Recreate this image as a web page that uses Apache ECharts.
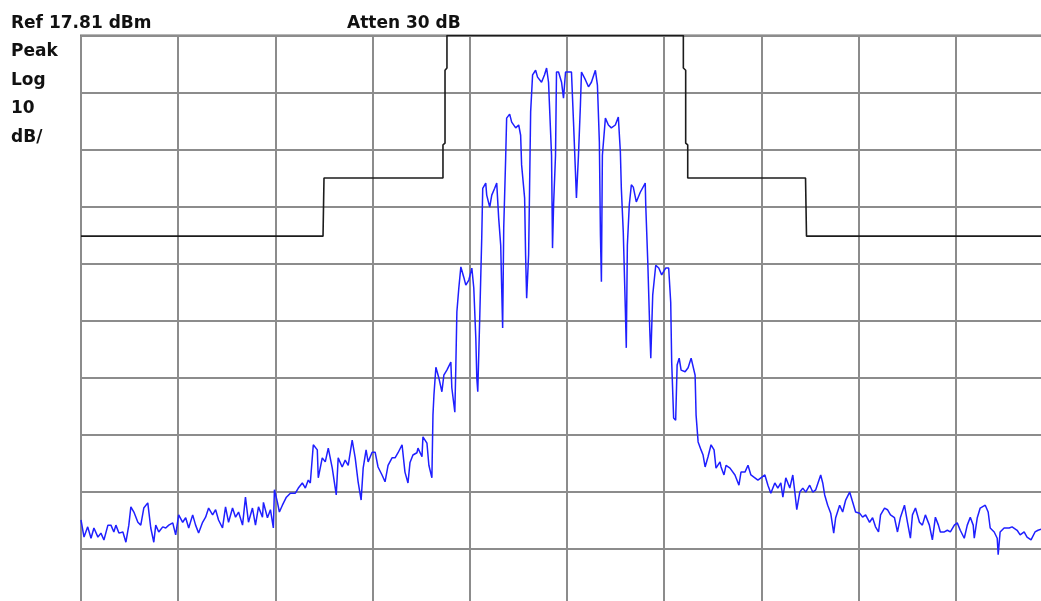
<!DOCTYPE html>
<html>
<head>
<meta charset="utf-8">
<script src="https://cdn.jsdelivr.net/npm/echarts@6/dist/echarts.min.js"></script>
<style>
html,body{margin:0;padding:0;background:#fff;}
#c{width:1041px;height:601px;}
</style>
</head>
<body>
<div id="c"></div>
<script>
// Header / annotation texts
const REF_LEVEL_DBM = 17.81;
const DB_PER_DIV = 10;
const ATTEN_DB = 30;
const headerText = 'Ref ' + REF_LEVEL_DBM + ' dBm';
const attenText = 'Atten ' + ATTEN_DB + ' dB';
const sideLabels = ['Peak', 'Log', String(DB_PER_DIV), 'dB/'];

// Frequency in horizontal divisions (0..10), level in dB relative to reference level
const traceFreq = [
0.000,0.031,0.069,0.103,0.133,0.174,0.205,0.236,0.277,0.308,0.338,0.359,0.390,0.431,0.462,0.492,0.513,0.544,0.585,0.615,
0.646,0.687,0.718,0.749,0.769,0.800,0.841,0.872,0.903,0.944,0.974,1.005,1.046,1.077,1.108,1.149,1.179,1.210,1.251,1.282,
1.313,1.354,1.385,1.415,1.456,1.487,1.518,1.559,1.590,1.621,1.662,1.692,1.723,1.764,1.795,1.826,1.867,1.877,1.918,1.949,
1.979,1.990,2.021,2.041,2.072,2.113,2.154,2.205,2.236,2.277,2.308,2.338,2.359,2.390,2.431,2.441,2.482,2.513,2.544,2.585,
2.626,2.646,2.687,2.718,2.749,2.790,2.821,2.851,2.882,2.903,2.933,2.954,2.995,3.026,3.056,3.097,3.128,3.159,3.200,3.231,
3.262,3.303,3.333,3.364,3.385,3.415,3.456,3.467,3.508,3.518,3.559,3.579,3.610,
3.621,3.631,3.651,3.682,3.713,3.733,3.764,3.805,3.815,3.846,3.856,3.867,3.887,3.908,3.938,3.959,3.990,4.021,4.041,4.062,
4.072,4.082,4.103,4.123,4.133,4.164,4.174,4.205,4.226,4.256,4.277,4.297,4.318,4.328,4.338,4.349,4.369,4.379,4.410,4.431,
4.472,4.503,4.523,4.533,4.564,4.574,4.585,4.605,4.615,4.626,4.646,4.677,4.697,4.738,4.769,4.790,4.810,4.841,4.851,4.862,
4.882,4.892,4.913,4.944,4.964,4.985,5.015,5.046,5.067,5.087,5.097,5.118,5.138,5.149,5.190,5.221,5.251,5.292,5.313,5.333,
5.344,5.354,5.364,5.395,5.426,5.456,5.497,5.528,5.549,5.559,5.579,5.600,5.610,5.621,5.641,5.662,5.682,5.713,5.754,5.805,
5.810,5.831,5.851,5.862,5.882,5.913,5.944,5.974,6.015,6.046,6.067,6.077,6.097,6.118,6.133,6.154,6.174,6.215,6.246,6.277,
6.318,6.328,6.349,6.379,
6.400,6.421,6.451,6.482,6.513,6.533,6.574,6.585,6.615,6.636,6.677,6.697,6.728,6.769,6.790,6.831,6.862,6.892,6.933,6.964,
6.995,7.036,7.067,7.097,7.138,7.169,7.200,7.221,7.251,7.292,7.323,7.344,7.364,7.395,7.426,7.456,7.497,7.528,7.559,7.610,
7.631,7.651,7.682,7.713,7.744,7.764,7.805,7.836,7.867,7.908,7.938,7.969,8.010,8.041,8.072,8.113,8.144,8.174,8.205,8.226,
8.267,8.297,8.328,8.369,8.400,8.431,8.472,8.503,8.533,8.554,8.585,8.626,8.656,8.687,8.728,8.759,8.790,8.821,8.841,8.882,
8.913,8.944,8.985,9.015,9.046,9.087,9.118,9.149,9.179,9.190,9.221,9.251,9.303,9.333,9.354,9.395,9.426,9.436,9.456,9.497,
9.549,9.579,9.631,9.662,9.703,9.733,9.774,9.815,9.846,9.900,10.000
];
const traceLevel = [
-85.0,-88.0,-86.2,-88.2,-86.4,-88.0,-87.3,-88.5,-85.9,-85.9,-87.1,-85.9,-87.3,-87.1,-88.9,-85.9,-82.7,-83.6,-85.4,-85.9,
-82.9,-82.0,-86.4,-88.9,-85.9,-87.1,-86.2,-86.4,-85.9,-85.5,-87.6,-84.1,-85.4,-84.6,-86.4,-84.1,-85.9,-87.3,-85.4,-84.5,
-82.9,-84.1,-83.2,-85.0,-86.4,-82.7,-85.4,-82.9,-84.5,-83.6,-85.9,-81.0,-85.4,-82.9,-85.9,-82.7,-84.5,-81.9,-84.6,-83.2,
-86.4,-79.7,-81.9,-83.6,-82.4,-81.0,-80.3,-80.3,-79.4,-78.5,-79.4,-78.0,-78.5,-71.8,-72.7,-77.6,-74.1,-74.8,-72.4,-75.9,
-80.6,-74.1,-75.7,-74.5,-75.4,-71.0,-74.1,-78.3,-81.5,-75.9,-72.7,-74.8,-73.1,-73.1,-75.7,-77.1,-78.3,-75.4,-74.1,-74.1,
-73.2,-71.8,-76.6,-78.5,-74.9,-73.6,-73.2,-72.4,-73.9,-70.4,-71.5,-75.4,-77.6,
-66.6,-63.1,-58.2,-60.1,-62.5,-59.6,-58.7,-57.3,-61.8,-66.1,-58.3,-48.5,-44.3,-40.6,-42.4,-43.8,-42.9,-40.8,-44.3,-53.1,
-60.1,-62.5,-49.0,-35.4,-26.8,-25.9,-28.0,-30.1,-28.0,-26.8,-25.9,-32.0,-36.8,-44.3,-51.3,-33.8,-21.5,-14.5,-13.8,-15.2,
-16.2,-15.7,-17.5,-22.7,-28.5,-38.5,-46.1,-38.5,-26.8,-13.4,-6.9,-6.1,-7.3,-8.2,-6.9,-5.7,-8.2,-21.0,-37.3,-29.7,
-21.0,-6.4,-6.4,-8.2,-11.0,-6.4,-6.4,-6.4,-15.2,-24.0,-28.5,-21.0,-12.2,-6.4,-7.8,-9.0,-8.2,-6.1,-8.7,-18.7,
-35.0,-43.2,-21.0,-14.5,-15.7,-16.2,-15.7,-14.3,-20.4,-26.8,-34.5,-47.8,-54.8,-36.8,-29.7,-26.2,-26.6,-29.2,-27.5,-25.9,
-29.7,-39.7,-51.3,-56.6,-45.5,-40.3,-40.8,-42.0,-40.8,-40.8,-46.8,-57.3,-67.1,-67.5,-57.8,-56.6,-58.7,-59.0,-58.3,-56.6,
-59.6,-66.6,-71.3,-72.7,
-73.6,-75.7,-73.9,-71.8,-72.7,-75.9,-74.8,-75.7,-77.1,-75.4,-75.9,-75.9,-77.1,-78.9,-76.6,-76.6,-75.4,-77.1,-77.6,-78.0,
-77.6,-77.1,-78.9,-80.3,-78.5,-79.4,-78.5,-81.0,-77.6,-79.4,-77.1,-80.1,-83.2,-80.1,-79.4,-80.1,-78.9,-80.1,-79.7,-77.1,
-78.5,-80.6,-82.4,-83.8,-87.3,-84.6,-82.4,-83.6,-81.5,-80.1,-81.8,-83.6,-83.8,-84.5,-84.1,-85.4,-84.6,-86.2,-87.1,-84.1,
-82.9,-83.2,-84.1,-84.6,-87.1,-84.5,-82.4,-85.4,-88.2,-84.1,-82.9,-85.4,-85.9,-84.1,-85.9,-88.5,-84.5,-85.9,-87.1,-87.1,
-86.8,-87.1,-85.9,-85.5,-86.8,-88.2,-85.9,-84.5,-85.9,-88.2,-84.6,-82.9,-82.4,-83.6,-86.4,-87.1,-88.2,-91.1,-87.1,-86.4,
-86.4,-86.2,-86.8,-87.6,-87.1,-88.0,-88.5,-87.1,-86.8,-86.5,-87.0
];

// Limit mask (black stepped line)
const maskFreq  = [0.000, 2.490, 2.500, 3.724, 3.724, 3.745, 3.745, 3.765, 3.765, 6.197, 6.197, 6.221, 6.221, 6.242, 6.242, 7.454, 7.464, 10.000];
const maskLevel = [-35.2, -35.2, -25.0, -25.0, -19.2, -18.9, -6.1, -5.7, 0.0, 0.0, -5.7, -6.1, -18.9, -19.2, -25.0, -25.0, -35.2, -35.2];

// Screen: 10 x 10 divisions (the picture shows it cropped at right and bottom)
const X_MIN = 0, X_MAX = 10, X_DIV = 1;
const Y_MIN = -100, Y_MAX = 0, Y_DIV = 10;

const traceData = traceFreq.map((f, i) => [f, traceLevel[i]]);
const maskData = maskFreq.map((f, i) => [f, maskLevel[i]]);

const chart = echarts.init(document.getElementById('c'), null, {renderer: 'canvas'});

const FONT = '"DejaVu Sans", Verdana, sans-serif';

const graphics = [
  {type: 'text', left: 11, top: 15, style: {text: headerText, fill: '#111', font: 'bold 17px ' + FONT}},
  {type: 'text', left: 347, top: 15, style: {text: attenText, fill: '#111', font: 'bold 17px ' + FONT}}
];
sideLabels.forEach((t, i) => {
  graphics.push({type: 'text', left: 11, top: 43 + i * 28.6, style: {text: t, fill: '#111', font: 'bold 17px ' + FONT}});
});

chart.setOption({
  animation: false,
  backgroundColor: '#ffffff',
  grid: {left: 81, top: 35.5, width: 972, height: 570, containLabel: false, outerBoundsMode: 'none',
         show: true, borderColor: '#707070', borderWidth: 2},
  xAxis: {
    type: 'value', min: X_MIN, max: X_MAX, interval: X_DIV,
    axisLine: {show: false}, axisTick: {show: false}, axisLabel: {show: false},
    splitLine: {show: true, lineStyle: {color: '#8c8c8c', width: 2}}
  },
  yAxis: {
    type: 'value', min: Y_MIN, max: Y_MAX, interval: Y_DIV,
    axisLine: {show: false}, axisTick: {show: false}, axisLabel: {show: false},
    splitLine: {show: true, lineStyle: {color: '#8c8c8c', width: 2}}
  },
  graphic: graphics,
  series: [
    {
      type: 'line', data: maskData, showSymbol: false, silent: true,
      lineStyle: {color: '#1c1c1c', width: 1.6}, z: 3
    },
    {
      type: 'line', data: traceData, showSymbol: false, silent: true,
      lineStyle: {color: '#1f1fff', width: 1.5}, z: 4
    }
  ]
});
</script>
</body>
</html>
